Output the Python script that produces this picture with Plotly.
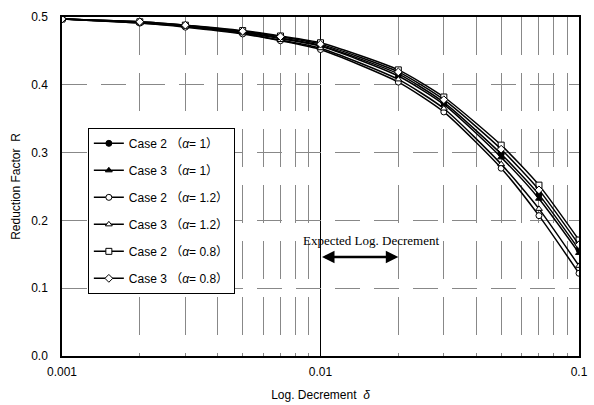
import math
import plotly.graph_objects as go

# ---- data ----
log_decrement = [0.001, 0.002, 0.003, 0.005, 0.007, 0.01, 0.02, 0.03, 0.05, 0.07, 0.1]

case2_a1   = [0.497, 0.492, 0.487, 0.478, 0.469, 0.458, 0.416, 0.374, 0.298, 0.238, 0.157]
case3_a1   = [0.497, 0.492, 0.487, 0.477, 0.468, 0.457, 0.413, 0.371, 0.293, 0.232, 0.152]
case2_a12  = [0.497, 0.491, 0.485, 0.475, 0.465, 0.452, 0.404, 0.360, 0.277, 0.207, 0.122]
case3_a12  = [0.497, 0.491, 0.486, 0.476, 0.466, 0.454, 0.408, 0.365, 0.283, 0.217, 0.133]
case2_a08  = [0.497, 0.493, 0.488, 0.480, 0.472, 0.462, 0.422, 0.382, 0.311, 0.252, 0.171]
case3_a08  = [0.497, 0.493, 0.488, 0.479, 0.471, 0.460, 0.419, 0.378, 0.305, 0.245, 0.164]

series_names = [
    "Case 2 （<i>α</i>= 1）",
    "Case 3 （<i>α</i>= 1）",
    "Case 2 （<i>α</i>= 1.2）",
    "Case 3 （<i>α</i>= 1.2）",
    "Case 2 （<i>α</i>= 0.8）",
    "Case 3 （<i>α</i>= 0.8）",
]
series_values = [case2_a1, case3_a1, case2_a12, case3_a12, case2_a08, case3_a08]
series_symbols = ["circle", "triangle-up", "circle", "triangle-up", "square", "diamond"]
series_fill = ["black", "black", "white", "white", "white", "white"]

y_tick_vals = [0.0, 0.1, 0.2, 0.3, 0.4, 0.5]
y_tick_text = ["0.0", "0.1", "0.2", "0.3", "0.4", "0.5"]
x_tick_vals = [0.001, 0.01, 0.1]
x_tick_text = ["0.001", "0.01", "0.1"]
x_minor_vals = [0.002, 0.003, 0.004, 0.005, 0.006, 0.007, 0.008, 0.009,
                0.02, 0.03, 0.04, 0.05, 0.06, 0.07, 0.08, 0.09]

expected_range = [0.01, 0.02]
expected_level = 0.146
expected_label = "Expected Log. Decrement"
expected_label_pos = (0.0157, 0.171)

FONT = "Liberation Sans, Arial, Noto Sans CJK JP, sans-serif"

fig = go.Figure()
for name, vals, sym, fill in zip(series_names, series_values, series_symbols, series_fill):
    fig.add_trace(go.Scatter(
        x=log_decrement, y=vals, name=name, mode="lines+markers",
        line=dict(color="black", width=1.5, shape="spline", smoothing=0.6),
        marker=dict(symbol=sym, size=6, color=fill, line=dict(color="black", width=1)),
        legendgroup=name,
    ))

# double-headed arrow for expected range
fig.add_annotation(
    x=math.log10(expected_range[1]), y=expected_level,
    ax=math.log10(expected_range[0]), ay=expected_level,
    xref="x", yref="y", axref="x", ayref="y",
    showarrow=True, arrowhead=2, startarrowhead=2, arrowside="end+start",
    arrowwidth=2.5, arrowsize=1, startarrowsize=1, arrowcolor="black", text="",
)
fig.add_annotation(
    x=math.log10(expected_label_pos[0]), y=expected_label_pos[1],
    xref="x", yref="y", text=expected_label, showarrow=False,
    font=dict(family="Liberation Serif, Times New Roman, serif", size=13, color="black"),
)

fig.update_layout(
    width=594, height=405,
    margin=dict(l=62, r=15, t=17, b=49),
    paper_bgcolor="white", plot_bgcolor="white",
    font=dict(family=FONT, size=12, color="black"),
    legend=dict(
        x=0.05, y=0.673, xanchor="left", yanchor="top",
        bordercolor="black", borderwidth=1, bgcolor="white",
        tracegroupgap=8, font=dict(size=12), itemwidth=30,
    ),
    xaxis=dict(
        type="log", range=[-3, -1], automargin=False,
        tickvals=x_tick_vals, ticktext=x_tick_text, ticklabelstandoff=4,
        showgrid=True, gridcolor="black", gridwidth=1,
        showline=True, linecolor="black", linewidth=1.5, mirror=True,
        ticks="", zeroline=False,
        minor=dict(tickvals=x_minor_vals, showgrid=True, gridcolor="#888888",
                   gridwidth=1, griddash="38px,18px", ticks=""),
        title=dict(text="Log. Decrement  <i>δ</i>", standoff=12, font=dict(size=12)),
    ),
    yaxis=dict(
        range=[0, 0.5], automargin=False,
        tickvals=y_tick_vals, ticktext=y_tick_text, ticklabelstandoff=10,
        showgrid=True, gridcolor="#888888", gridwidth=1, griddash="25px,14px",
        showline=True, linecolor="black", linewidth=1.5, mirror=True,
        ticks="", zeroline=False,
        title=dict(text="Reduction Factor  R", standoff=8, font=dict(size=12)),
    ),
)

fig.write_html("out.html", config={"displayModeBar": False},
               post_script="document.body.style.margin='0';document.body.style.overflow='hidden';")
